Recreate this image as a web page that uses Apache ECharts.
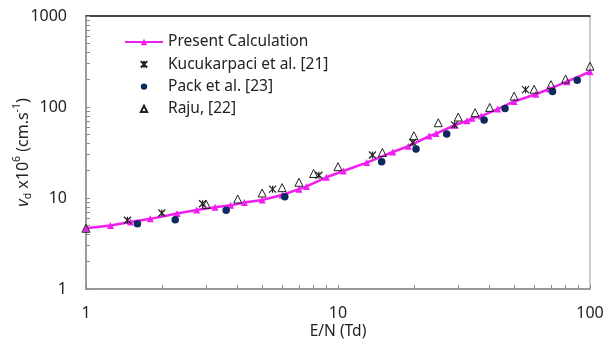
<!DOCTYPE html>
<html>
<head>
<meta charset="utf-8">
<script src="https://cdn.jsdelivr.net/npm/echarts@6/dist/echarts.min.js"></script>
<style>
  html, body { margin: 0; padding: 0; background: #fff; }
  #chart { width: 613px; height: 347px; }
</style>
</head>
<body>
<div id="chart"></div>
<script>
// Drift velocity vs reduced field E/N
const calcEN = [1, 1.25, 1.5, 1.8, 2.3, 2.75, 3.25, 3.75, 4.25, 5, 6, 7, 7.5, 9, 10.5, 13, 16.5, 19, 23, 24.5, 29, 32.5, 34, 37, 43, 50, 61, 69, 81, 100];
const calcVd = [4.65, 5.0, 5.45, 5.9, 6.75, 7.4, 7.9, 8.3, 8.9, 9.5, 10.8, 12.5, 13.4, 16.9, 19.8, 24.5, 32, 37, 48, 51, 63, 70.5, 75, 79.5, 95, 115, 138, 158, 190, 244];

const kucEN = [1.46, 2.0, 2.9, 5.5, 8.4, 13.7, 19.8, 29, 55.5];
const kucVd = [5.7, 6.85, 8.65, 12.5, 17.8, 29.7, 40.7, 63.7, 155];

const packEN = [1.6, 2.26, 3.6, 6.15, 14.9, 20.4, 27, 38, 46, 71, 89];
const packVd = [5.2, 5.75, 7.35, 10.3, 25.0, 34.5, 50.5, 72, 96, 148, 197];

const rajuEN = [1, 3, 4, 5, 6, 7, 8, 10, 15, 20, 25, 30, 35, 40, 50, 60, 70, 80, 100];
const rajuVd = [4.65, 8.5, 9.75, 11.35, 13.0, 14.9, 18.6, 22.1, 31.6, 48.4, 67.2, 77.6, 86.6, 98.8, 131.5, 156.6, 175.8, 203, 281];

// Tick positions: decades plus the 2..9 subdivisions of each decade
const xTickValues = [1, 2, 3, 4, 5, 6, 7, 8, 9, 10, 20, 30, 40, 50, 60, 70, 80, 90, 100];
const yTickValues = [1, 2, 3, 4, 5, 6, 7, 8, 9, 10, 20, 30, 40, 50, 60, 70, 80, 90, 100,
                     200, 300, 400, 500, 600, 700, 800, 900, 1000];
const xLabelValues = [1, 10, 100];
const yLabelValues = [1, 10, 100, 1000];

const zip = (xs, ys) => xs.map((x, i) => [x, ys[i]]);

const FONT = 'Noto Sans';
const chart = echarts.init(document.getElementById('chart'), null, { renderer: 'canvas' });

chart.setOption({
  animation: false,
  backgroundColor: '#fff',
  textStyle: { fontFamily: FONT },
  grid: {
    left: 86, right: 23, top: 16, bottom: 58,
    outerBoundsMode: 'none',
    containLabel: false,
    show: true, borderColor: '#9a9a9a', borderWidth: 1
  },
  legend: {
    orient: 'vertical',
    left: 119, top: 29,
    itemWidth: 38, itemHeight: 8, itemGap: 6.3,
    textStyle: { fontFamily: FONT, fontSize: 15.5, color: '#222', lineHeight: 16 },
    data: ['Present Calculation', 'Kucukarpaci et al. [21]', 'Pack et al. [23]', 'Raju, [22]']
  },
  xAxis: [
    {
      type: 'log', logBase: 10,
      min: 1, max: 100,
      position: 'bottom',
      name: 'E/N (Td)',
      nameLocation: 'middle',
      nameGap: 35,
      nameMoveOverlap: false,
      nameTextStyle: { fontFamily: FONT, fontSize: 15.5, color: '#222' },
      splitLine: { show: false },
      axisLine: { lineStyle: { color: '#8a8a8a', width: 1.5 } },
      axisTick: { inside: true, length: 4, customValues: xTickValues, lineStyle: { color: '#8a8a8a' } },
      axisLabel: {
        fontFamily: FONT, fontSize: 16, color: '#222', margin: 16,
        customValues: xLabelValues,
        formatter: v => String(v)
      }
    },
    {
      type: 'log', logBase: 10,
      min: 1, max: 100,
      position: 'top',
      splitLine: { show: false },
      axisLine: { lineStyle: { color: '#1a1a1a', width: 1.5 } },
      axisTick: { show: false },
      axisLabel: { show: false }
    }
  ],
  yAxis: {
    type: 'log', logBase: 10,
    min: 1, max: 1000,
    name: '{i|v}{sub|d}{t| x10}{sup|6}{t| (cm.s}{sup|-1}{t|)}',
    nameLocation: 'middle',
    nameGap: 52,
    nameMoveOverlap: false,
    nameTextStyle: {
      color: '#222',
      rich: {
        i: { fontFamily: FONT, fontSize: 16, fontStyle: 'italic', color: '#222', lineHeight: 22, verticalAlign: 'middle' },
        t: { fontFamily: FONT, fontSize: 16, color: '#222', lineHeight: 22, verticalAlign: 'middle' },
        sub: { fontFamily: FONT, fontSize: 10.5, color: '#222', lineHeight: 22, verticalAlign: 'bottom' },
        sup: { fontFamily: FONT, fontSize: 10.5, color: '#222', lineHeight: 22, verticalAlign: 'top' }
      }
    },
    splitLine: { show: false },
    axisLine: { show: true, lineStyle: { color: '#8a8a8a', width: 1.5 } },
    axisTick: { inside: true, length: 4, customValues: yTickValues, lineStyle: { color: '#8a8a8a' } },
    axisLabel: {
      fontFamily: FONT, fontSize: 16, color: '#222', margin: 19,
      customValues: yLabelValues,
      formatter: v => String(v)
    }
  },
  series: [
    {
      name: 'Present Calculation',
      type: 'line',
      data: zip(calcEN, calcVd),
      symbol: 'triangle',
      symbolSize: 7,
      showSymbol: true,
      lineStyle: { color: '#f01ef0', width: 2.5 },
      itemStyle: { color: '#f01ef0' },
      z: 2
    },
    {
      name: 'Kucukarpaci et al. [21]',
      type: 'line',
      data: zip(kucEN, kucVd),
      symbol: 'path://M0 0L10 10M10 0L0 10M5 0L5 10',
      symbolSize: 7,
      lineStyle: { opacity: 0, width: 0 },
      itemStyle: { color: '#222', borderColor: '#222', borderWidth: 1.2 },
      z: 3
    },
    {
      name: 'Pack et al. [23]',
      type: 'line',
      data: zip(packEN, packVd),
      symbol: 'circle',
      symbolSize: 7.5,
      lineStyle: { opacity: 0, width: 0 },
      itemStyle: { color: '#0c2a5e' },
      z: 3
    },
    {
      name: 'Raju, [22]',
      type: 'line',
      data: zip(rajuEN, rajuVd),
      symbol: 'triangle',
      symbolSize: 8,
      lineStyle: { opacity: 0, width: 0 },
      itemStyle: { color: 'rgba(255,255,255,0)', borderColor: '#222', borderWidth: 1 },
      z: 3
    }
  ]
});
</script>
</body>
</html>
